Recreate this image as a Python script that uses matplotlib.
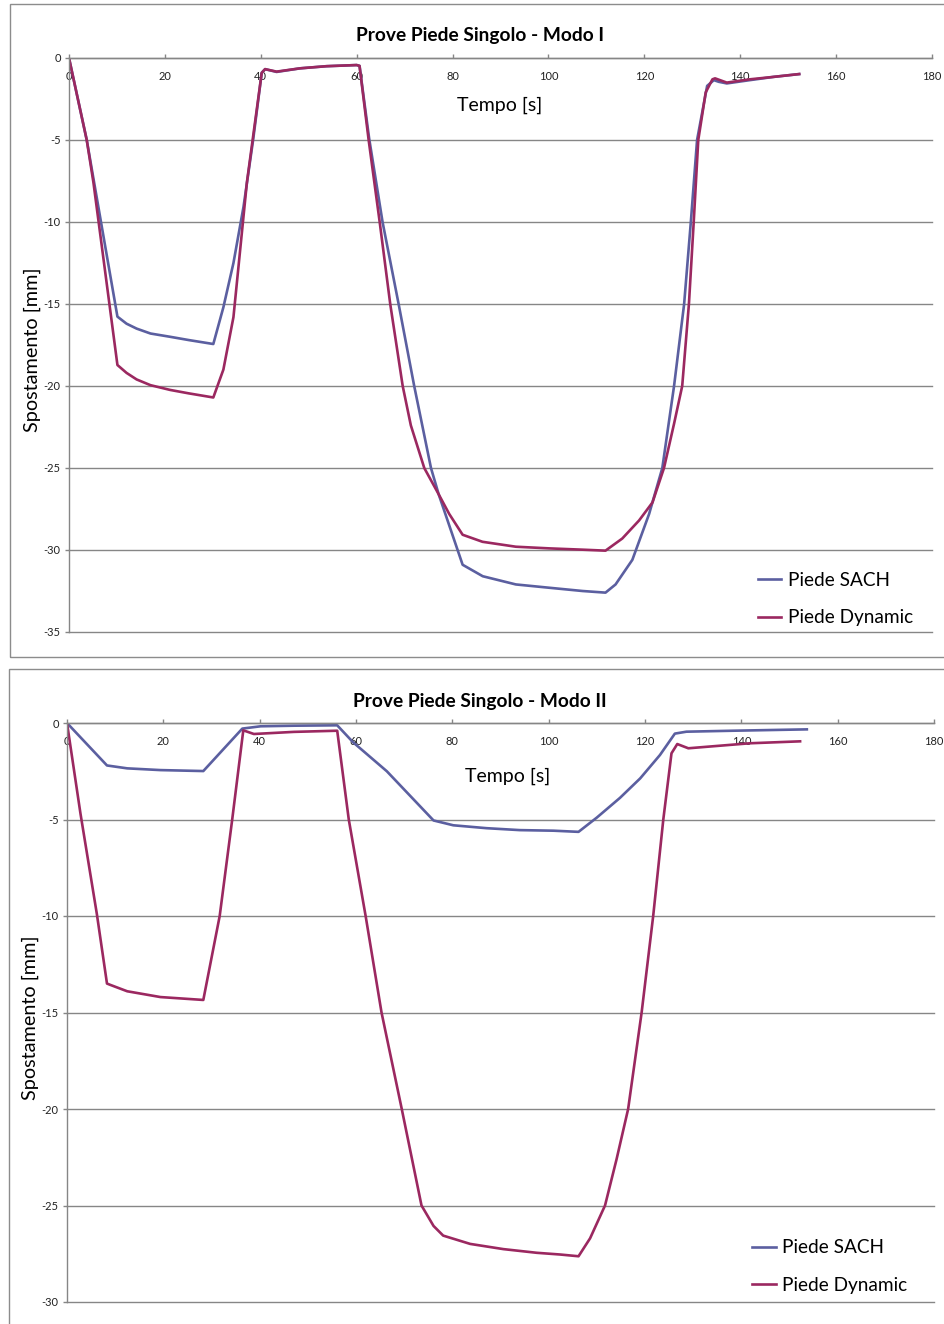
import matplotlib
matplotlib.use('Agg')
import matplotlib.pyplot as plt
from matplotlib.patches import Rectangle

plt.rcParams['font.family'] = ['Lato', 'DejaVu Sans']
plt.rcParams['axes.unicode_minus'] = False

# ---------------- data ----------------
x_ticks = [0, 20, 40, 60, 80, 100, 120, 140, 160, 180]
series_names = ['Piede SACH', 'Piede Dynamic']
titles = ['Prove Piede Singolo - Modo I', 'Prove Piede Singolo - Modo II']
x_label = 'Tempo [s]'
y_label = 'Spostamento [mm]'

# Modo I
t_sach_1 = [0, 3.7, 10.1, 12, 14.1, 17, 21.1, 25, 30.1, 32.2, 34.3, 36.4, 38.4, 40.2, 40.9, 43.3,
            48.2, 53.7, 60.0, 60.6, 62.6, 65.4, 68.75, 72.0, 75.5, 77.1, 82.1, 86.3, 93.2, 100.1,
            107.1, 111.9, 114.0, 117.5, 121.0, 123.75, 126.2, 128.3, 129.7, 131.0, 133.1, 134.5,
            135.5, 137.2, 142.0, 147.0, 152.3]
y_sach_1 = [0, -5, -15.77, -16.2, -16.5, -16.8, -17.0, -17.2, -17.44, -15.2, -12.5, -9.07, -5.0,
            -0.9, -0.68, -0.85, -0.63, -0.5, -0.43, -0.48, -4.9, -10, -15, -20, -25, -26.6, -30.9,
            -31.6, -32.1, -32.3, -32.5, -32.6, -32.1, -30.6, -27.8, -25, -20, -15, -10, -5, -1.7,
            -1.35, -1.45, -1.55, -1.35, -1.15, -0.98]
t_dyn_1 = [0, 3.7, 5.1, 10.1, 12, 14.1, 17, 21.1, 25, 30.1, 32.2, 34.3, 35.7, 37.1, 38.3, 40.2,
           40.9, 43.3, 48.2, 53.7, 60.0, 60.6, 62.5, 64.8, 67.0, 69.6, 71.3, 74.1, 77.1, 79.3, 82.1,
           86.25, 93.2, 100.1, 107.1, 111.9, 115.4, 118.9, 121.7, 124.1, 126.2, 127.9, 129.3,
           130.3, 131.25, 132.8, 134.2, 134.75, 137.2, 142.0, 147.0, 152.3]
y_dyn_1 = [0, -5, -7.6, -18.72, -19.2, -19.6, -19.95, -20.24, -20.45, -20.7, -19.0, -15.8, -11.7,
           -7.6, -5.0, -0.9, -0.68, -0.83, -0.63, -0.5, -0.43, -0.48, -5, -10, -15, -20, -22.4,
           -25, -26.6, -27.8, -29.07, -29.5, -29.8, -29.9, -29.98, -30.04, -29.3, -28.2, -27.1,
           -25, -22.3, -20, -15, -10, -5, -2.1, -1.3, -1.24, -1.5, -1.3, -1.15, -0.98]

# Modo II
t_sach_2 = [0, 8.3, 12.5, 19.4, 28.3, 36.4, 40.2, 47.1, 56.1, 59.4, 66.4, 76.1, 80.2, 87.1, 94.0,
            101.0, 106.2, 110.0, 114.8, 119.0, 123.1, 126.2, 128.6, 138.3, 153.6]
y_sach_2 = [0, -2.2, -2.35, -2.44, -2.49, -0.29, -0.17, -0.14, -0.12, -1.0, -2.5, -5.05, -5.3,
            -5.45, -5.55, -5.58, -5.64, -4.9, -3.88, -2.87, -1.66, -0.55, -0.45, -0.40, -0.33]
t_dyn_2 = [0, 2.8, 6.2, 8.3, 9.0, 12.5, 19.4, 28.3, 31.7, 34.3, 36.6, 38.8, 47.1, 56.1, 58.5,
           62.0, 65.3, 69.5, 73.6, 76.1, 78.1, 83.7, 90.6, 97.5, 102.4, 106.2, 108.6, 111.7,
           114.1, 116.5, 119.3, 121.7, 123.8, 125.5, 126.7, 129.0, 134.9, 141.8, 152.2]
y_dyn_2 = [0, -4.7, -9.9, -13.5, -13.57, -13.9, -14.2, -14.35, -10, -5, -0.38, -0.57, -0.46,
           -0.40, -5, -10, -15, -20, -25, -26.06, -26.56, -26.99, -27.26, -27.45, -27.54, -27.63,
           -26.7, -25, -22.6, -20, -15, -10, -5, -1.57, -1.09, -1.31, -1.19, -1.05, -0.95]

# ---------------- figure ----------------
W, H = 944, 1324
fig = plt.figure(figsize=(W / 100, H / 100), dpi=100)


def axrect(l, t, r, b):
    return [l / W, 1 - b / H, (r - l) / W, (b - t) / H]


GRID = '#868686'
C_SACH = '#5B5FA0'
C_DYN = '#9B2860'

# chart frames
fig.add_artist(Rectangle((10 / W, 1 - 657 / H), 1.0, (657 - 4) / H, transform=fig.transFigure,
                         fill=False, ec='#8c8c8c', lw=1.0))
fig.add_artist(Rectangle((9 / W, -0.02), 1.0, (1 - 669 / H) + 0.02, transform=fig.transFigure,
                         fill=False, ec='#8c8c8c', lw=1.0))

ax1 = fig.add_axes(axrect(69, 58, 932, 632))
ax2 = fig.add_axes(axrect(67, 723, 934, 1302))

panels = [
    (ax1, -35, t_sach_1, y_sach_1, t_dyn_1, y_dyn_1, titles[0], (480, 36), (500, 105), (32, 350),
     (0.798, 0.1045)),
    (ax2, -30, t_sach_2, y_sach_2, t_dyn_2, y_dyn_2, titles[1], (480, 702), (508, 776), (30, 1018),
     (0.790, 0.108)),
]

for ax, ymin, ts, ys, td, yd, title, tpos, xlpos, ylpos, legpos in panels:
    ax.plot(ts, ys, color=C_SACH, lw=1.9, label=series_names[0], solid_joinstyle='round')
    ax.plot(td, yd, color=C_DYN, lw=1.9, label=series_names[1], solid_joinstyle='round')
    ax.set_xlim(0, 180)
    ax.set_ylim(ymin, 0)
    ax.set_xticks(x_ticks)
    ax.set_yticks(list(range(ymin, 1, 5)))
    ax.spines['right'].set_visible(False)
    ax.spines['bottom'].set_visible(False)
    for s in ['left', 'top']:
        ax.spines[s].set_color(GRID)
        ax.spines[s].set_linewidth(1.0)
    ax.yaxis.grid(True, color=GRID, lw=1.0)
    for gl in ax.get_ygridlines():
        gl.set_clip_on(False)
    ax.set_axisbelow(True)
    ax.tick_params(axis='x', top=True, bottom=False, labeltop=True, labelbottom=False,
                   direction='out', length=3, width=1, color=GRID, labelsize=8,
                   labelcolor='#222222', pad=-20)
    ax.tick_params(axis='y', direction='out', length=3, width=1, color=GRID, labelsize=8,
                   labelcolor='#222222', pad=3)
    fig.text(tpos[0] / W, 1 - tpos[1] / H, title, ha='center', va='center', fontsize=13.8,
             fontweight='bold', color='black')
    ax.set_xlabel(x_label, fontsize=14)
    ax.xaxis.set_label_position('top')
    pos = ax.get_position()
    ax.xaxis.set_label_coords((xlpos[0] / W - pos.x0) / pos.width,
                              (1 - xlpos[1] / H - pos.y0) / pos.height)
    ax.xaxis.label.set_va('center')
    ax.set_ylabel(y_label, fontsize=14.3)
    ax.yaxis.set_label_coords((ylpos[0] / W - pos.x0) / pos.width,
                              (1 - ylpos[1] / H - pos.y0) / pos.height)
    ax.yaxis.label.set_va('center')
    ax.legend(loc='upper left', bbox_to_anchor=legpos, frameon=False, fontsize=13.7,
              handlelength=1.25, handletextpad=0.33, labelspacing=1.06, borderpad=0,
              borderaxespad=0)

fig.savefig('out.png', dpi=100)
